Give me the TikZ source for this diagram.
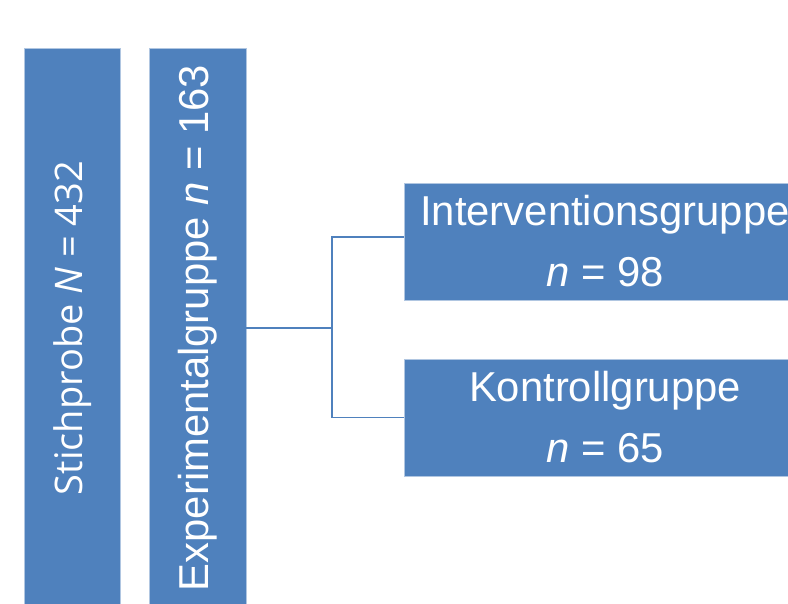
\documentclass[tikz,border=0pt]{standalone}
\usepackage{fontspec}
\setmainfont{Liberation Sans}
\newfontfamily\opensans{Open Sans}
\usetikzlibrary{positioning}
\definecolor{boxblue}{HTML}{4F81BD}

\begin{document}
\begin{tikzpicture}[x=0.5pt, y=-0.5pt]
    \tikzset{
      group/.style={fill=boxblue, draw=boxblue!45, line width=0.4pt, text=white, inner sep=0pt}, % blue box with white text
      tallbox/.style={group, rotate=90, minimum width=280pt, minimum height=48pt}, % upright box, text turned
      widebox/.style={group, minimum width=201pt, minimum height=58.5pt, align=center,
                      font=\fontsize{20.9}{30.5}\selectfont}, % box for the two subgroups
      link/.style={draw=boxblue, line width=0.75pt}, % the branching connector
    }
    \clip (0,0) rectangle (788,604);

    \node[tallbox, font=\opensans\fontsize{19}{20}\selectfont] (stichprobe) at (72.5,328) {Stichprobe \textit{N} = 432};
    \node[tallbox, minimum height=48.5pt, font=\fontsize{20.9}{24}\selectfont] (experimental) at (197.5,328) {Experimentalgruppe \textit{n} = 163};
    \node[widebox] (intervention) at (605,241.5) {Interventionsgruppe\\\textit{n} = 98};
    \node[widebox] (kontrolle) at (605,417.5) {Kontrollgruppe\\\textit{n} = 65};

    \coordinate (split) at (332,328);
    \draw[link] (experimental.south) -- (split);
    \draw[link] (split) |- ([yshift=2.25pt]intervention.west);
    \draw[link] (split) |- (kontrolle.west);
\end{tikzpicture}
\end{document}
